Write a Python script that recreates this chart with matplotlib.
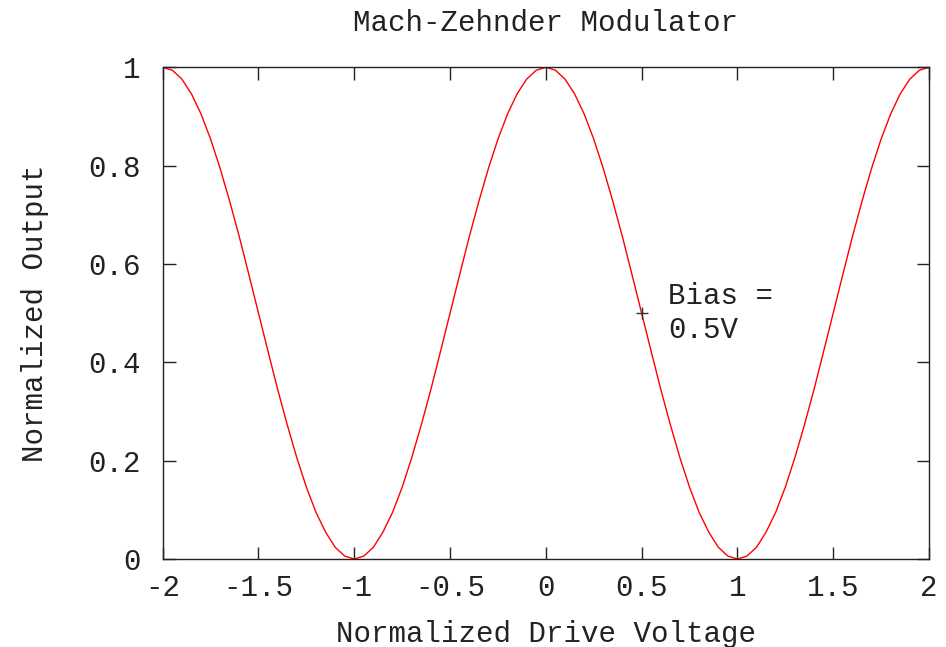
import numpy as np
import matplotlib
matplotlib.use('Agg')
import matplotlib.pyplot as plt

# normalized drive voltage, sampled every 0.05 V from -2 to 2
v_start, v_stop, v_step = -2.0, 2.0, 0.05

# normalized optical output
output = [1.000, 0.994, 0.976, 0.946, 0.905, 0.854, 0.794, 0.727, 0.655, 0.578,
          0.500, 0.422, 0.345, 0.273, 0.206, 0.146, 0.095, 0.055, 0.024, 0.006,
          0.000,
          0.006, 0.024, 0.055, 0.095, 0.146, 0.206, 0.273, 0.345, 0.422, 0.500,
          0.578, 0.655, 0.727, 0.794, 0.854, 0.905, 0.946, 0.976, 0.994, 1.000,
          0.994, 0.976, 0.946, 0.905, 0.854, 0.794, 0.727, 0.655, 0.578, 0.500,
          0.422, 0.345, 0.273, 0.206, 0.146, 0.095, 0.055, 0.024, 0.006, 0.000,
          0.006, 0.024, 0.055, 0.095, 0.146, 0.206, 0.273, 0.345, 0.422, 0.500,
          0.578, 0.655, 0.727, 0.794, 0.854, 0.905, 0.946, 0.976, 0.994, 1.000]

# bias point
bias_v = 0.5
bias_out = 0.5
bias_label = 'Bias =\n0.5V'

x_ticks = [-2, -1.5, -1, -0.5, 0, 0.5, 1, 1.5, 2]
x_ticklabels = ['-2', '-1.5', '-1', '-0.5', '0', '0.5', '1', '1.5', '2']
y_ticks = [0, 0.2, 0.4, 0.6, 0.8, 1]
y_ticklabels = ['0', '0.2', '0.4', '0.6', '0.8', '1']

volts = np.linspace(v_start, v_stop, len(output))

plt.rcParams['font.family'] = ['Liberation Mono', 'DejaVu Sans Mono']
fs = 21
txt_col = '#222222'

fig = plt.figure(figsize=(9.46, 6.47), dpi=100)
ax = fig.add_axes([0.172, 0.136, 0.810, 0.760])

ax.plot(volts, output, color='red', lw=1.0)
ax.plot([bias_v], [bias_out], marker='+', color='#333333', markersize=9, mew=1.0)
ax.text(0.64, bias_out, bias_label, fontsize=fs, color=txt_col,
        va='center', ha='left', linespacing=1.25)

ax.set_xlim(-2, 2)
ax.set_ylim(0, 1)
ax.set_xticks(x_ticks)
ax.set_xticklabels(x_ticklabels)
ax.set_yticks(y_ticks)
ax.set_yticklabels(y_ticklabels)
ax.tick_params(direction='in', length=9, width=1.0, top=True, right=True,
               labelsize=fs, labelcolor=txt_col, color='#222222')
ax.tick_params(axis='x', pad=11)
ax.tick_params(axis='y', pad=16)
for s in ax.spines.values():
    s.set_linewidth(1.0)
    s.set_color('#222222')

ax.set_title('Mach-Zehnder Modulator', fontsize=fs, color=txt_col, pad=26)
ax.set_xlabel('Normalized Drive Voltage', fontsize=fs, color=txt_col, labelpad=13)
ax.set_ylabel('Normalized Output', fontsize=fs, color=txt_col, labelpad=28)

fig.savefig('out.png', dpi=100)
